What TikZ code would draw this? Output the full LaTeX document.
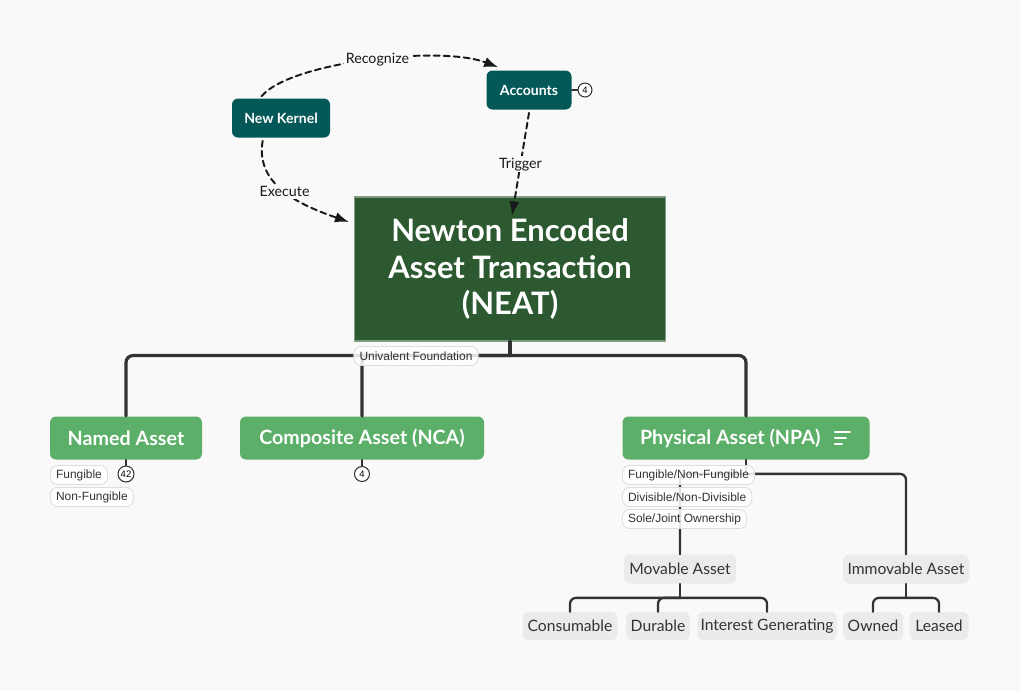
\documentclass[tikz,border=0pt]{standalone}
\usepackage{fontspec}
\setmainfont{Lato}
\newfontfamily\tagfont{Liberation Sans}
\usetikzlibrary{arrows.meta,calc,positioning}
\definecolor{mapbg}{RGB}{249,249,249}
\definecolor{kerneltea}{RGB}{4,89,88}
\definecolor{neatgreen}{RGB}{44,89,48}
\definecolor{assetgreen}{RGB}{91,175,104}
\definecolor{leafgray}{RGB}{235,235,235}
\definecolor{linegray}{RGB}{51,51,51}
\definecolor{tagborder}{RGB}{222,222,222}
\newcommand{\titlefont}{\fontsize{17.6}{21}\selectfont\bfseries}
\newcommand{\assetfont}{\fontsize{11.2}{13}\selectfont\bfseries}
\newcommand{\kernelfont}{\fontsize{8}{10}\selectfont\bfseries}
\newcommand{\leaffont}{\fontsize{8.9}{10}\selectfont}
\newcommand{\labelfont}{\fontsize{8.1}{9}\selectfont}
\newcommand{\smalltagfont}{\tagfont\fontsize{6.8}{8}\selectfont}

\begin{document}
\begin{tikzpicture}[x=0.02cm,y=-0.02cm,>=Latex,line cap=round,line join=round,
    boxsize/.style 2 args={minimum width=#1*0.02cm,minimum height=#2*0.02cm,inner sep=0pt},
    kernel/.style={fill=kerneltea,text=white,rounded corners=6*0.02cm,font=\kernelfont},
    neatbox/.style={fill=neatgreen,draw=neatgreen!60!white,line width=0.6pt,text=white,align=center,font=\titlefont},
    asset/.style={fill=assetgreen,text=white,rounded corners=6*0.02cm,font=\assetfont},
    leaf/.style={fill=leafgray,text=linegray,rounded corners=6*0.02cm,font=\leaffont},
    tag/.style={fill=white,fill opacity=.85,text opacity=1,draw=tagborder,line width=0.5pt,
                rounded corners=7*0.02cm,inner xsep=3.2pt,inner ysep=0pt,minimum height=19*0.02cm,
                text=linegray,font=\smalltagfont},
    badge/.style={circle,draw=linegray,fill=white,line width=0.6pt,inner sep=0pt,
                  minimum size=#1*0.02cm,font=\tagfont\fontsize{5.4}{6}\selectfont},
    flow/.style={->,dashed,dash pattern=on 6*0.02cm off 4*0.02cm,line width=1.1pt,black!90},
    flowlabel/.style={fill=mapbg,inner sep=1pt,text=black!90,font=\labelfont},
    trunk/.style={draw=linegray,line width=1.8pt,rounded corners=7*0.02cm},
    twig/.style={draw=linegray,line width=1.3pt,rounded corners=6*0.02cm}]
  % Tło i granice rysunku.
  \fill[mapbg] (0,0) rectangle (1020,691);
  \useasboundingbox (0,0) rectangle (1020,691);

  % Węzły górne.
  \node[kernel,boxsize={98}{39}] (kernel) at (281,118) {New Kernel};
  \node[kernel,boxsize={85}{39}] (accounts) at (529,90) {Accounts};
  \node[badge=14] (accbadge) at (585,90) {4};
  \draw[linegray,line width=0.8pt] (accounts.east) -- (accbadge.west);
  \node[neatbox,boxsize={311}{144}] (neat) at (510,269)
       {Newton Encoded\\Asset Transaction\\(NEAT)};

  % Połączenia przerywane.
  \draw[flow] ($(kernel.north west)+(30,-2)$)
       .. controls (290,62) and (440,45) .. ($(accounts.north west)+(12,-3)$)
       node[flowlabel,pos=.53] {Recognize};
  \draw[flow] ($(kernel.south west)+(31,3)$)
       .. controls (255,185) and (300,205) .. ($(neat.west)+(-5,-47)$)
       node[flowlabel,pos=.5] {Execute};
  \coordinate (trigend) at ($(neat.north)+(2,19)$);
  \draw[flow] ($(accounts.south)+(0,3)$) -- (trigend)
       node[flowlabel,pos=.5] {Trigger};

  % Gałęzie pierwszego poziomu.
  \node[asset,boxsize={152}{43}] (named) at (126,438) {Named Asset};
  \node[asset,boxsize={244}{43}] (composite) at (362,438) {Composite Asset (NCA)};
  \node[asset,boxsize={247}{43}] (physical) at (746,438)
       {Physical Asset (NPA)\kern 18pt\null};
  \draw[white,line width=1.2pt] ($(physical.east)+(-35,-6)$) -- ++(15,0)
       ($(physical.east)+(-35,0)$) -- ++(11,0)
       ($(physical.east)+(-35,6)$) -- ++(7,0);
  \coordinate (rootfork) at ($(neat.south)+(0,14)$);
  \draw[trunk] (neat.south) -- (rootfork);
  \draw[trunk] (rootfork) -| (named.north);
  \draw[trunk] (rootfork) -| (composite.north);
  \draw[trunk] (rootfork) -| (physical.north);
  \node[tag] (univalent) at (416,356) {Univalent Foundation};

  % Etykiety i liczniki pod gałęziami.
  \node[badge=16] (namedbadge) at (126,474) {42};
  \draw[linegray,line width=0.9pt] (named.south) -- (namedbadge.north);
  \node[badge=15] (compbadge) at (362,474) {4};
  \draw[linegray,line width=0.9pt] (composite.south) -- (compbadge.north);
  \node[tag,anchor=west] (fungible) at (50,475) {Fungible};
  \node[tag,anchor=west] (nonfungible) at (50,497) {Non-Fungible};

  % Poddrzewo aktywów fizycznych.
  \node[leaf,boxsize={112}{29}] (movable) at (680,569) {Movable Asset};
  \node[leaf,boxsize={126}{29}] (immovable) at (906,569) {Immovable Asset};
  \coordinate (physfork) at ($(physical.south)+(0,14)$);
  \draw[twig] (physical.south) -- (physfork);
  \draw[twig] (physfork) -| (movable.north);
  \draw[twig] (physfork) -| (immovable.north);
  \node[tag,anchor=west] (fungnon) at (622,475) {Fungible/Non-Fungible};
  \node[tag,anchor=west] (divisible) at (622,497) {Divisible/Non-Divisible};
  \node[tag,anchor=west] (ownership) at (622,519) {Sole/Joint Ownership};

  \node[leaf,boxsize={95}{28}] (consumable) at (570,626) {Consumable};
  \node[leaf,boxsize={64}{28}] (durable) at (658,626) {Durable};
  \node[leaf,boxsize={139}{28}] (interest) at (767,626) {Interest Generating};
  \node[leaf,boxsize={60}{28}] (owned) at (873,626) {Owned};
  \node[leaf,boxsize={59}{28}] (leased) at (939,626) {Leased};
  \coordinate (movfork) at ($(movable.south)+(0,14)$);
  \coordinate (immfork) at ($(immovable.south)+(0,14)$);
  \draw[twig] (movable.south) -- (movfork);
  \draw[twig] (movfork) -| (consumable.north);
  \draw[twig] (movfork) -| (durable.north);
  \draw[twig] (movfork) -| (interest.north);
  \draw[twig] (immovable.south) -- (immfork);
  \draw[twig] (immfork) -| (owned.north);
  \draw[twig] (immfork) -| (leased.north);
\end{tikzpicture}
\end{document}
